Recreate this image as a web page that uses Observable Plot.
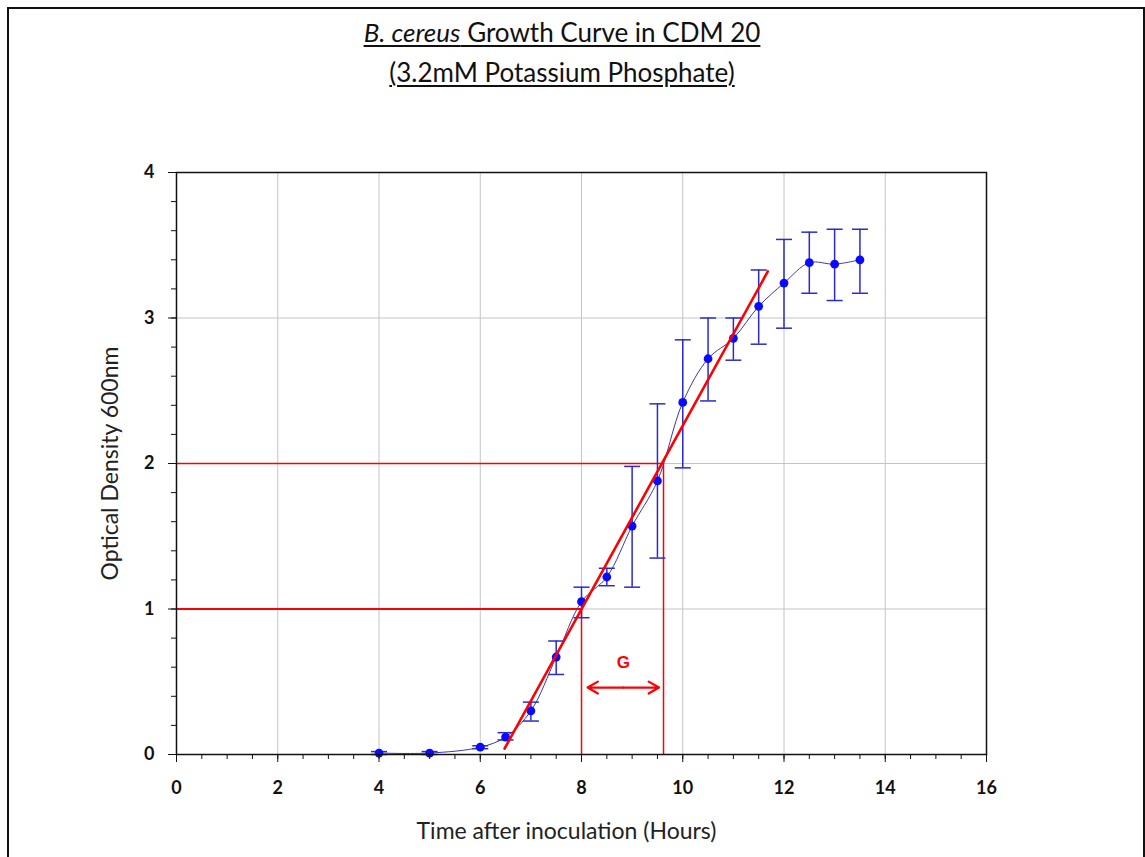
<!DOCTYPE html>
<html><head><meta charset="utf-8">
<script src="https://cdn.jsdelivr.net/npm/d3@7"></script>
<script src="https://cdn.jsdelivr.net/npm/@observablehq/plot@0.6"></script>
<style>
body{margin:0;background:#fff;font-family:Lato,"Open Sans",sans-serif;}
#frame{position:absolute;left:7px;top:7px;width:1138px;height:900px;border:2px solid #111;border-bottom:none;box-sizing:border-box;pointer-events:none}
#title{height:110px;width:1124px;text-align:center;font-size:26px;line-height:40px;padding-top:12px;box-sizing:border-box;color:#111}
#title span{text-decoration:underline;text-underline-offset:3px;text-decoration-thickness:1.5px}
#chart svg{display:block}
</style></head><body>
<div id="frame"></div>
<div id="title"><span><i>B. cereus</i> Growth Curve in CDM 20</span><br><span>(3.2mM Potassium Phosphate)</span></div>
<div id="chart"></div>
<script>
// ---- data ----
const hours  = [4, 5, 6, 6.5, 7, 7.5, 8, 8.5, 9, 9.5, 10, 10.5, 11, 11.5, 12, 12.5, 13, 13.5];
const od     = [0.01, 0.01, 0.05, 0.12, 0.30, 0.67, 1.05, 1.22, 1.57, 1.88, 2.42, 2.72, 2.86, 3.08, 3.24, 3.38, 3.37, 3.40];
const odLow  = [0.00, 0.00, 0.04, 0.10, 0.23, 0.55, 0.94, 1.16, 1.15, 1.35, 1.97, 2.43, 2.71, 2.82, 2.93, 3.17, 3.12, 3.17];
const odHigh = [0.02, 0.02, 0.06, 0.15, 0.36, 0.78, 1.15, 1.28, 1.98, 2.41, 2.85, 3.00, 3.00, 3.33, 3.54, 3.59, 3.61, 3.61];

// exponential-phase fit line (red)
const fitHours = [6.48, 11.68];
const fitOD    = [0.04, 3.32];

// generation-time construction lines
const levelOD    = [1, 2];
const levelHours = [8, 9.62];

// "G" arrow
const gFrom = 8.12, gTo = 9.53, gOD = 0.46, gLabelOD = 0.63, gLabel = "G";

// ticks
const xTicks = [0, 2, 4, 6, 8, 10, 12, 14, 16];
const xMinor = d3.range(0, 16.001, 0.5);
const yTicks = [0, 1, 2, 3, 4];
const yMinor = d3.range(0, 4.001, 0.2);

const xTitle = "Time after inoculation (Hours)";
const yTitle = "Optical Density 600nm";

// ---- build ----
const pts = hours.map((h, i) => ({h, od: od[i], lo: odLow[i], hi: odHigh[i]}));
const fit = fitHours.map((h, i) => ({h, od: fitOD[i]}));
const levels = levelOD.map((v, i) => ({od: v, h: levelHours[i]}));
const cap = {draw(ctx) { ctx.moveTo(-8, 0); ctx.lineTo(8, 0); }};
const gMid = (gFrom + gTo) / 2;
const red = "#ff0000";
const blueBar = "#2b2bcc";

const chart = Plot.plot({
  width: 1145, height: 747,
  marginTop: 62, marginLeft: 176, marginRight: 159, marginBottom: 103,
  x: {domain: [0, 16]},
  y: {domain: [0, 4]},
  style: {fontFamily: "Lato, 'Open Sans', sans-serif", background: "white", color: "#111"},
  marks: [
    Plot.gridX(xTicks.filter(d => d > 0 && d < 16), {stroke: "#c4c4c4", strokeOpacity: 1, strokeWidth: 1}),
    Plot.gridY(yTicks.filter(d => d > 0 && d < 4), {stroke: "#c4c4c4", strokeOpacity: 1, strokeWidth: 1}),
    Plot.ruleY([levels[0]], {y: "od", x1: 0, x2: "h", stroke: red, strokeWidth: 2.2}),
    Plot.ruleY([levels[1]], {y: "od", x1: 0, x2: "h", stroke: red, strokeWidth: 1.5}),
    Plot.ruleX(levels, {x: "h", y1: 0, y2: "od", stroke: red, strokeWidth: 1.5}),
    Plot.ruleX(pts, {x: "h", y1: "lo", y2: "hi", stroke: blueBar, strokeWidth: 1.5}),
    Plot.dot(pts, {x: "h", y: "lo", symbol: cap, stroke: blueBar, strokeWidth: 1.5}),
    Plot.dot(pts, {x: "h", y: "hi", symbol: cap, stroke: blueBar, strokeWidth: 1.5}),
    Plot.line(pts, {x: "h", y: "od", curve: "catmull-rom", stroke: "#3a3aa8", strokeWidth: 1}),
    Plot.dot(pts, {x: "h", y: "od", r: 4.4, fill: "#0a0aff"}),
    Plot.line(fit, {x: "h", y: "od", stroke: red, strokeWidth: 2.6}),
    Plot.arrow([{a: gMid, b: gFrom}, {a: gMid, b: gTo}], {x1: "a", x2: "b", y1: gOD, y2: gOD, stroke: red, strokeWidth: 2.2, headLength: 11}),
    Plot.text([gLabel], {x: gMid, y: gLabelOD, fill: red, fontSize: 17, fontWeight: "bold", fontFamily: "Liberation Sans, Arial, sans-serif"}),
    Plot.frame({stroke: "#111", strokeWidth: 1.5}),
    Plot.axisX(xMinor, {tickSize: 5, text: null, label: null, stroke: "#111"}),
    Plot.axisX(xTicks, {tickSize: 8, tickPadding: 19, fontSize: 18, fontWeight: "bold", label: null, stroke: "#111", tickFormat: d => String(d)}),
    Plot.axisY(yMinor, {tickSize: 5, text: null, label: null, stroke: "#111"}),
    Plot.axisY(yTicks, {tickSize: 8, tickPadding: 14, fontSize: 18, fontWeight: "bold", label: null, stroke: "#111", tickFormat: d => String(d)}),
    Plot.text([xTitle], {frameAnchor: "bottom", dy: 84, dx: -15, fontSize: 23, fill: "#222"}),
    Plot.text([yTitle], {frameAnchor: "left", dx: -66, rotate: -90, textAnchor: "middle", fontSize: 23, fill: "#222"})
  ]
});
document.getElementById("chart").appendChild(chart);
</script>
</body></html>
